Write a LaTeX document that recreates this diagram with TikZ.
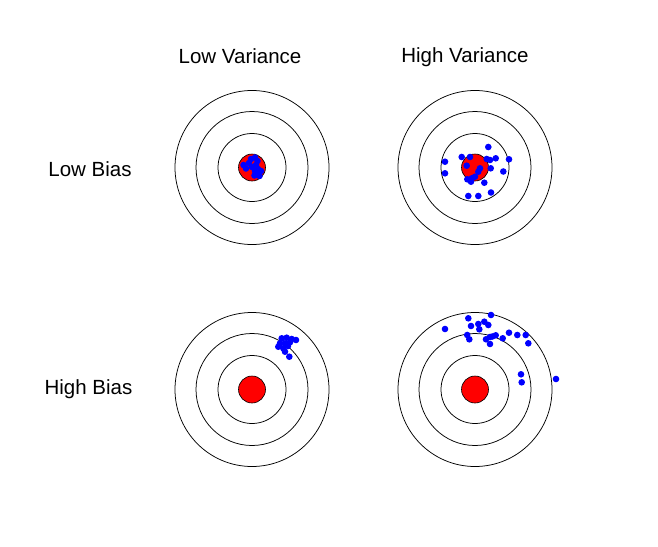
\documentclass[tikz,border=0pt]{standalone}
\usepackage{fontspec}
\setmainfont{Liberation Sans}
\begin{document}
\begin{tikzpicture}[x=1pt,y=-1pt,
  ring/.style={draw=black,line width=0.75pt},
  bull/.style={fill=red,draw=black,line width=0.6pt},
  shot/.style={fill=blue},
  lab/.style={anchor=base,inner sep=0pt,font=\fontsize{20.5}{24}\selectfont}]
\useasboundingbox (0,0) rectangle (658,546);
\fill[white] (0,0) rectangle (658,546);
% labels
\node[lab] (lv) at (240,63) {Low Variance};
\node[lab] (hv) at (465,62) {High Variance};
\node[lab] (lb) at (90,176) {Low Bias};
\node[lab] (hb) at (88.5,394) {High Bias};
% targets
\foreach \cx/\cy in {252/167.5, 475/167.5, 252/389.5, 475/389.5}{
  \draw[ring] (\cx,\cy) circle (77);
  \draw[ring] (\cx,\cy) circle (56);
  \draw[ring] (\cx,\cy) circle (34);
  \draw[bull] (\cx,\cy) circle (13.5);
}
% low bias, low variance
\foreach \x/\y in {243.5/165, 246/168.5, 249/163, 251/159, 255/157.5, 257.5/161, 256/165, 252/167, 258/169, 258.5/173, 254.5/175.5, 259.5/176, 255/171, 261/171}{
  \fill[shot] (\x,\y) circle (3.3);
}
% low bias, high variance
\foreach \x/\y in {488.3/147, 445/161.7, 445/173.3, 461.7/157, 470/157, 466.7/165.7, 486.7/159, 490/160, 495.7/158.3, 509/159.3, 490.7/168.3, 503.3/171.5, 480/168.3, 478.3/171.7, 475/176.7, 471.7/178.3, 467.3/179.3, 471/181.7, 484.3/182.7, 468.3/196, 478.3/196, 491/192.5}{
  \fill[shot] (\x,\y) circle (3.3);
}
% high bias, low variance
\foreach \x/\y in {281.7/338.3, 286.7/337.7, 291.7/339, 296/340, 280/343.3, 285/343.3, 290/342.3, 283.3/348.3, 278.3/346.7, 285/351.7, 289.3/356.7, 288/346}{
  \fill[shot] (\x,\y) circle (3.3);
}
% high bias, high variance
\foreach \x/\y in {491/315, 468.3/318.3, 445/329, 471/326, 478.3/324, 484.3/321.7, 488.3/325, 479.3/329.3, 467.2/335, 469.3/339.3, 486/339.3, 490/337, 492.3/336.5, 495.7/335.3, 490/344, 502.7/338.3, 509/332.7, 517.3/335, 525.7/335, 528.3/343.3, 521/374.3, 521.7/382.3, 556/379}{
  \fill[shot] (\x,\y) circle (3.3);
}
\end{tikzpicture}
\end{document}
